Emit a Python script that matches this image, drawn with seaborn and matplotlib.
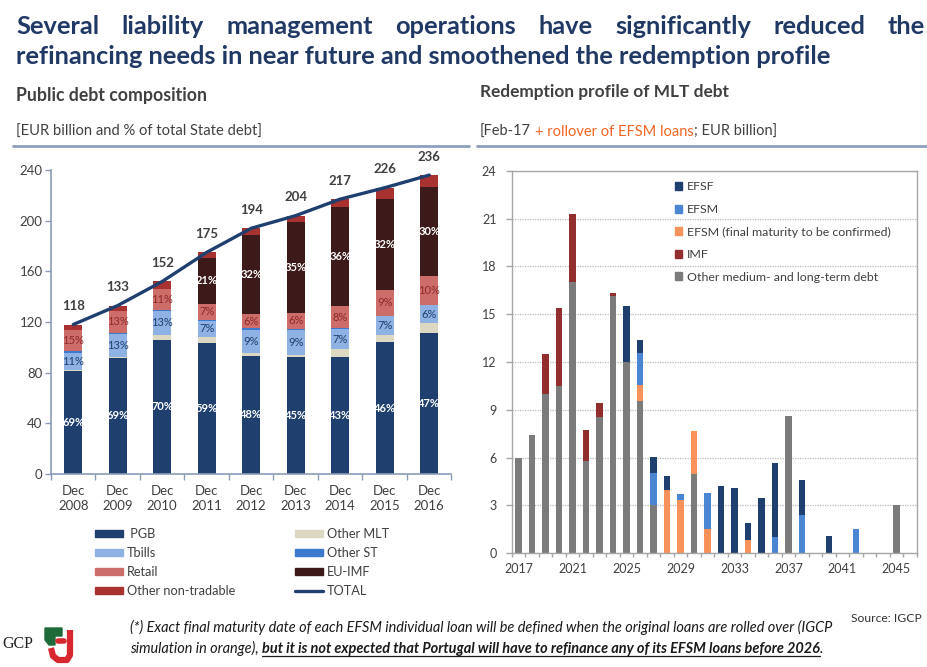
import numpy as np
import pandas as pd
import matplotlib
matplotlib.use("Agg")
import matplotlib.pyplot as plt
import seaborn as sns
from matplotlib.patches import Patch, Polygon
from matplotlib.lines import Line2D

# ---------------- data: public debt composition (EUR bn) ----------------
dec_years = ["2008", "2009", "2010", "2011", "2012", "2013", "2014", "2015", "2016"]
pgb = [81.5, 91.7, 106.0, 103.5, 93.5, 92.5, 92.6, 104.0, 111.5]
other_mlt = [1.0, 1.0, 3.5, 4.5, 2.0, 1.8, 5.8, 5.8, 7.5]
tbills = [13.0, 17.5, 19.5, 13.0, 18.0, 19.5, 16.3, 15.0, 14.3]
other_st = [1.5, 1.5, 0.5, 0.5, 1.5, 1.0, 0.5, 0.2, 0.2]
retail = [17.0, 17.0, 16.5, 13.0, 11.5, 12.5, 17.3, 20.5, 23.0]
eu_imf = [0.0, 0.0, 0.0, 36.0, 62.5, 72.0, 78.5, 72.0, 70.0]
other_nontradable = [4.0, 4.3, 6.0, 4.5, 5.0, 4.7, 6.0, 8.5, 9.5]
totals = [118, 133, 152, 175, 194, 204, 217, 226, 236]
pgb_pct = ["69%", "69%", "70%", "59%", "48%", "45%", "43%", "46%", "47%"]
tbills_pct = ["11%", "13%", "13%", "7%", "9%", "9%", "7%", "7%", "6%"]
retail_pct = ["15%", "13%", "11%", "7%", "6%", "6%", "8%", "9%", "10%"]
euimf_pct = ["", "", "", "21%", "32%", "35%", "36%", "32%", "30%"]

# ---------------- data: redemption profile (EUR bn) ----------------
red_years = [str(y) for y in range(2017, 2047)]
other_mlt_debt = [6.0, 7.4, 10.0, 10.5, 17.0, 5.8, 8.55, 16.15, 12.0, 9.55,
                  3.0, 0, 0, 4.95, 0, 0, 0, 0, 0, 0,
                  8.6, 0, 0, 0, 0, 0, 0, 0, 3.0, 0]
imf = [0, 0, 2.5, 4.9, 4.3, 1.95, 0.85, 0.15, 0, 0,
       0, 0, 0, 0, 0, 0, 0, 0, 0, 0,
       0, 0, 0, 0, 0, 0, 0, 0, 0, 0]
efsm_final = [0, 0, 0, 0, 0, 0, 0, 0, 0, 1.0,
              0, 4.0, 3.35, 2.75, 1.55, 0, 0, 0.85, 0, 0,
              0, 0, 0, 0, 0, 0, 0, 0, 0, 0]
efsm = [0, 0, 0, 0, 0, 0, 0, 0, 0, 2.0,
        2.05, 0, 0.4, 0, 2.25, 0, 0, 0, 0, 1.0,
        0, 2.4, 0, 0, 0, 1.5, 0, 0, 0, 0]
efsf = [0, 0, 0, 0, 0, 0, 0, 0, 3.5, 0.8,
        1.0, 0.85, 0, 0, 0, 4.2, 4.1, 1.05, 3.45, 4.65,
        0, 2.2, 0, 1.1, 0, 0, 0, 0, 0, 0]
year_tick_labels = ["2017", "2021", "2025", "2029", "2033", "2037", "2041", "2045"]

# ---------------- styling ----------------
W, H = 928, 667
sns.set_theme(style="white")
plt.rcParams["font.family"] = ["Lato", "DejaVu Sans"]
TXT = "#404040"
TITLE_C = "#1F3864"

c_pgb, c_mlt, c_tbills, c_st = "#1F3F6E", "#DDD8C2", "#8DB2E3", "#3D79CC"
c_retail, c_euimf, c_ont, c_total = "#CD6D6A", "#3D1A1A", "#A8322F", "#1F3F6E"
c_efsf, c_efsm, c_efsm_final, c_imf, c_other = "#1F3F6E", "#4A86D1", "#F7925A", "#922F2E", "#7B7B7B"

fig = plt.figure(figsize=(W / 100, H / 100), dpi=100, facecolor="white")
renderer = fig.canvas.get_renderer()


def fx(px):
    return px / W


def fy(py):
    return 1 - py / H


def width_of(t):
    return t.get_window_extent(renderer=renderer).width


def fit_text(x, y, s, target_w, size=10, **kw):
    t = fig.text(fx(x), fy(y), s, fontsize=size, va="baseline", ha="left", **kw)
    t.set_fontsize(size * target_w / width_of(t))
    return t


# ---------------- title (justified first line) ----------------
line1 = "Several liability management operations have significantly reduced the"
line2 = "refinancing needs in near future and smoothened the redemption profile"
t2 = fit_text(16, 64, line2, 816, 17, fontweight="bold", color=TITLE_C)
tsize = t2.get_fontsize()
words = line1.split()
wts = [fig.text(0, fy(34), w, fontsize=tsize, fontweight="bold", color=TITLE_C,
                va="baseline", ha="left") for w in words]
wws = [width_of(t) for t in wts]
gap = (909 - sum(wws)) / (len(words) - 1)
xpos = 16
for t, w in zip(wts, wws):
    t.set_x(fx(xpos))
    xpos += w + gap

# ---------------- section headers ----------------
fit_text(16, 101, "Public debt composition", 189, 12, fontweight="bold", color=TXT)
fit_text(480, 97, "Redemption profile of MLT debt", 247, 12, fontweight="bold", color=TXT)
fit_text(16, 136, "[EUR billion and % of total State debt]", 246, 10, color=TXT)

sub_parts = [("[Feb-17 ", TXT), ("+ rollover of EFSM loans", "#F26522"), ("; EUR billion]", TXT)]
probe = fit_text(480, 136, "".join(p for p, _ in sub_parts), 295, 10, color=TXT)
ssize = probe.get_fontsize()
probe.remove()
sp_a = fig.text(0, 0, "a a", fontsize=ssize)
sp_b = fig.text(0, 0, "aa", fontsize=ssize)
space_w = width_of(sp_a) - width_of(sp_b)
sp_a.remove(); sp_b.remove()
xpos = 480
for part, col in sub_parts:
    t = fig.text(fx(xpos), fy(136), part.strip(), fontsize=ssize, color=col, va="baseline", ha="left")
    xpos += width_of(t) + (space_w if part.endswith(" ") else 0)

fig.add_artist(Line2D([fx(13), fx(469)], [fy(146), fy(146)], color="#8DA0BD", lw=2))
fig.add_artist(Line2D([fx(477), fx(928)], [fy(146), fy(146)], color="#8DA0BD", lw=2))

# ---------------- left chart: stacked bars ----------------
axL = fig.add_axes([fx(51), fy(474), (451.5 - 51) / W, (474 - 170) / H])
left_series = [
    ("PGB", pgb, c_pgb),
    ("Other MLT", other_mlt, c_mlt),
    ("Tbills", tbills, c_tbills),
    ("Other ST", other_st, c_st),
    ("Retail", retail, c_retail),
    ("EU-IMF", eu_imf, c_euimf),
    ("Other non-tradable", other_nontradable, c_ont),
]
bottom = np.zeros(len(dec_years))
bottoms = {}
for name, vals, col in left_series:
    vals = np.asarray(vals, dtype=float)
    bottoms[name] = bottom.copy()
    sns.barplot(x=dec_years, y=vals, order=dec_years, color=col, saturation=1,
                width=0.4, bottom=bottom.copy(), errorbar=None, linewidth=0,
                ax=axL)
    bottom += vals

sns.lineplot(x=np.arange(len(dec_years)), y=totals, color=c_total, lw=2.4, ax=axL)

# percent labels
lab_specs = [("PGB", pgb, pgb_pct, "white"),
             ("Tbills", tbills, tbills_pct, "#1F3F6E"),
             ("Retail", retail, retail_pct, "#8E2A27"),
             ("EU-IMF", eu_imf, euimf_pct, "white")]
for name, vals, labs, col in lab_specs:
    for i, (v, lab) in enumerate(zip(vals, labs)):
        if lab:
            axL.text(i, bottoms[name][i] + v / 2, lab, ha="center", va="center",
                     fontsize=8, color=col, fontweight="bold" if col == "white" else "normal")
for i, tot in enumerate(totals):
    axL.annotate(str(tot), (i, bottom[i]), xytext=(0, 9), textcoords="offset points",
                 ha="center", va="bottom", fontsize=9.5, fontweight="bold", color=TXT,
                 annotation_clip=False)

axL.set_xlim(-0.5, len(dec_years) - 0.5)
axL.set_ylim(0, 240)
axL.set_yticks(np.arange(0, 241, 40))
axL.set_xticks(range(len(dec_years)))
axL.set_xticklabels(["Dec\n" + y for y in dec_years], fontsize=9.5, color=TXT, linespacing=1.25)
axL.set_xticks(np.arange(-0.5, len(dec_years), 1), minor=True)
axL.tick_params(axis="x", which="major", length=0, pad=8)
axL.tick_params(axis="x", which="minor", length=4, color="#8A9BB8", width=1, direction="out", bottom=True)
axL.tick_params(axis="y", length=4, color="#8A9BB8", width=1, direction="out", left=True,
                labelsize=9.5, labelcolor=TXT, pad=2)
for s in ["top", "right"]:
    axL.spines[s].set_visible(False)
for s in ["left", "bottom"]:
    axL.spines[s].set_color("#8A9BB8")
    axL.spines[s].set_linewidth(1.2)
axL.set_xlabel("")
axL.set_ylabel("")
axL.grid(False)
if axL.get_legend():
    axL.get_legend().remove()

# left legends
leg_kw = dict(loc="upper left", frameon=False, fontsize=9.2, handlelength=2.2, handleheight=0.5,
              handletextpad=0.3, labelspacing=0.55, borderpad=0, borderaxespad=0, labelcolor=TXT)
fig.legend(handles=[Patch(color=c_pgb, label=" PGB"), Patch(color=c_tbills, label="Tbills"),
                    Patch(color=c_retail, label="Retail"),
                    Patch(color=c_ont, label="Other non-tradable")],
           bbox_to_anchor=(fx(95), fy(528)), **leg_kw)
fig.legend(handles=[Patch(color=c_mlt, label="Other MLT"), Patch(color=c_st, label="Other ST"),
                    Patch(color=c_euimf, label="EU-IMF"),
                    Line2D([], [], color=c_total, lw=2.4, label="TOTAL")],
           bbox_to_anchor=(fx(295), fy(528)), **leg_kw)

# ---------------- right chart: redemption profile ----------------
axR = fig.add_axes([fx(511.7), fy(553.3), (916.7 - 511.7) / W, (553.3 - 170.7) / H])
right_series = [
    ("Other medium- and long-term debt", other_mlt_debt, c_other),
    ("IMF", imf, c_imf),
    ("EFSM (final maturity to be confirmed)", efsm_final, c_efsm_final),
    ("EFSM", efsm, c_efsm),
    ("EFSF", efsf, c_efsf),
]
bottom_r = np.zeros(len(red_years))
for name, vals, col in right_series:
    vals = np.asarray(vals, dtype=float)
    sns.barplot(x=red_years, y=vals, order=red_years, color=col, saturation=1,
                width=0.46, bottom=bottom_r.copy(), errorbar=None, linewidth=0, ax=axR)
    bottom_r += vals

axR.set_xlim(-0.5, len(red_years) - 0.5)
axR.set_ylim(0, 24)
axR.set_yticks(np.arange(0, 25, 3))
tick_idx = [red_years.index(y) for y in year_tick_labels]
axR.set_xticks(tick_idx)
axR.set_xticklabels(year_tick_labels, fontsize=9, color=TXT)
axR.set_xticks(np.arange(-0.5, len(red_years), 1), minor=True)
axR.tick_params(axis="x", which="major", length=0, pad=7)
axR.tick_params(axis="x", which="minor", length=3, color="#A6A6A6", width=1, direction="out", bottom=True)
axR.tick_params(axis="y", length=4, color="#A6A6A6", width=1, direction="out", left=True,
                labelsize=9, labelcolor=TXT, pad=7)
axR.yaxis.grid(True, linestyle=(0, (1, 1)), color="#B8B8B8", lw=0.9)
axR.xaxis.grid(False)
axR.set_axisbelow(True)
for s in axR.spines.values():
    s.set_visible(True)
    s.set_color("#A6A6A6")
    s.set_linewidth(1.0)
axR.set_xlabel("")
axR.set_ylabel("")

legR_items = [("EFSF", c_efsf), ("EFSM", c_efsm), ("EFSM (final maturity to be confirmed)", c_efsm_final),
              ("IMF", c_imf), ("Other medium- and long-term debt", c_other)]
fig.legend(handles=[Patch(color=c, label=l) for l, c in legR_items],
           loc="upper left", bbox_to_anchor=(fx(675), fy(181.5)), frameon=False,
           fontsize=8.9, handlelength=0.6, handleheight=0.6, handletextpad=0.35,
           labelspacing=0.93, borderpad=0, borderaxespad=0, labelcolor=TXT)

# ---------------- footer ----------------
FOOT = "#1A1A1A"
f1 = fit_text(130, 632, "(*) Exact final maturity date of each EFSM individual loan will be defined "
              "when the original loans are rolled over (IGCP", 705, 9, style="italic", color=FOOT)
fsize = f1.get_fontsize()
xpos = 130
pa = fig.text(fx(xpos), fy(653), "simulation in orange),", fontsize=fsize, style="italic",
              color=FOOT, va="baseline")
sp_a = fig.text(0, 0, "a a", fontsize=fsize, style="italic")
sp_b = fig.text(0, 0, "aa", fontsize=fsize, style="italic")
fspace = width_of(sp_a) - width_of(sp_b)
sp_a.remove(); sp_b.remove()
xpos += width_of(pa) + fspace
pb = fig.text(fx(xpos), fy(653), "but it is not expected that Portugal will have to refinance any of its "
              "EFSM loans before 2026", fontsize=fsize, style="italic", fontweight="bold",
              color=FOOT, va="baseline")
wb = width_of(pb)
fig.add_artist(Line2D([fx(xpos), fx(xpos + wb)], [fy(655.5), fy(655.5)], color=FOOT, lw=0.9))
xpos += wb
fig.text(fx(xpos), fy(653), ".", fontsize=fsize, style="italic", color=FOOT, va="baseline")

fit_text(851, 622, "Source: IGCP", 70, 8.5, color="#333333")

# logo
fig.text(fx(2), fy(648), "GCP", fontsize=11.5, family=["Liberation Serif", "DejaVu Serif"],
         color="#222222", va="baseline")
green = Polygon([(fx(45), fy(628)), (fx(62), fy(628)), (fx(62), fy(636)), (fx(55), fy(636)),
                 (fx(55), fy(645)), (fx(49), fy(645)), (fx(45), fy(640))],
                closed=True, transform=fig.transFigure, color="#1E6B3A")
fig.add_artist(green)
fig.add_artist(Line2D([fx(70), fx(70), fx(67), fx(58), fx(53), fx(51)],
                      [fy(630), fy(655), fy(660), fy(660), fy(656), fy(648)],
                      color="#D7282F", lw=4.5, solid_capstyle="butt", solid_joinstyle="round"))
fig.add_artist(Line2D([fx(58), fx(64)], [fy(641), fy(641)], color="#D7282F", lw=4))

fig.savefig("out.png", dpi=100, facecolor="white")
